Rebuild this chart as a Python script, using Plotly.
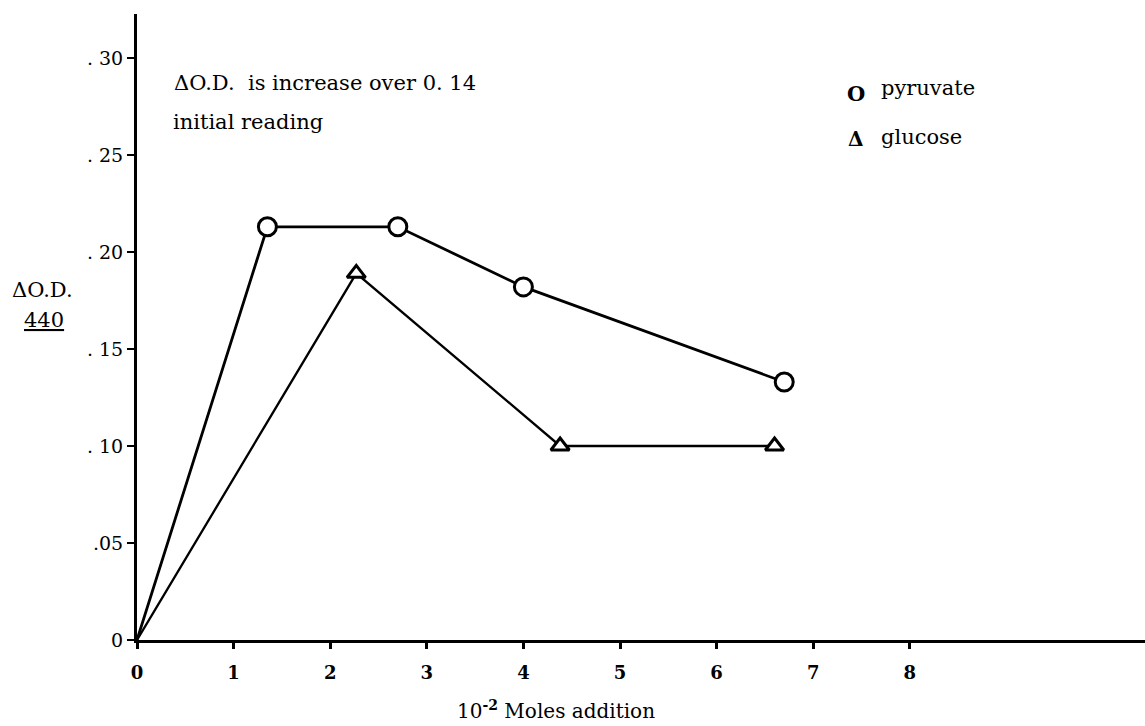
import plotly.graph_objects as go

# Data (x in 10^-2 moles, y in delta O.D. at 440)
pyruvate_x = [0, 1.35, 2.7, 4.0, 6.7]
pyruvate_y = [0, 0.213, 0.213, 0.182, 0.133]
glucose_x = [0, 2.27, 4.38, 6.6]
glucose_y = [0, 0.189, 0.100, 0.100]

x_ticks = [0, 1, 2, 3, 4, 5, 6, 7, 8]
x_ticklabels = ["0", "1", "2", "3", "4", "5", "6", "7", "8"]
y_ticks = [0, 0.05, 0.10, 0.15, 0.20, 0.25, 0.30]
y_ticklabels = ["0", ".05", ". 10", ". 15", ". 20", ". 25", ". 30"]

SERIF = "DejaVu Serif"

fig = go.Figure()

fig.add_trace(go.Scatter(
    x=pyruvate_x, y=pyruvate_y, mode="lines+markers",
    line=dict(color="black", width=2.8),
    marker=dict(symbol="circle", size=18, color="white",
                opacity=[0, 1, 1, 1, 1],
                line=dict(color="black", width=3)),
    showlegend=False, cliponaxis=False,
))
fig.add_trace(go.Scatter(
    x=glucose_x, y=glucose_y, mode="lines+markers",
    line=dict(color="black", width=2.3),
    marker=dict(symbol="triangle-up", size=16, color="white",
                opacity=[0, 1, 1, 1],
                line=dict(color="black", width=3)),
    showlegend=False, cliponaxis=False,
))

W, H = 1145, 726
L, R, T, B = 137, 0, 14, 86
px_per_x = 96.6
px_per_y = 1940.0
xmax = (W - L - R) / px_per_x
ymax = (H - T - B) / px_per_y

def px(xp):
    return (xp - L) / (W - L - R)

def py(yp):
    return (H - B - yp) / (H - T - B)

TXT = dict(family=SERIF, size=21, color="black")

annotations = [
    dict(x=px(172), y=py(83), xref="paper", yref="paper", xanchor="left", yanchor="middle",
         text="ΔO.D.  is increase over 0. 14", showarrow=False, font=TXT),
    dict(x=px(171), y=py(122), xref="paper", yref="paper", xanchor="left", yanchor="middle",
         text="initial reading", showarrow=False, font=TXT),
    # legend
    dict(x=px(856), y=py(93), xref="paper", yref="paper", xanchor="center", yanchor="middle",
         text="<b>O</b>", showarrow=False, font=dict(family=SERIF, size=21, color="black")),
    dict(x=px(879), y=py(88), xref="paper", yref="paper", xanchor="left", yanchor="middle",
         text="pyruvate", showarrow=False, font=TXT),
    dict(x=px(856), y=py(139), xref="paper", yref="paper", xanchor="center", yanchor="middle",
         text="<b>Δ</b>", showarrow=False, font=dict(family=SERIF, size=20, color="black")),
    dict(x=px(879), y=py(137), xref="paper", yref="paper", xanchor="left", yanchor="middle",
         text="glucose", showarrow=False, font=TXT),
    # y title
    dict(x=px(10), y=py(290), xref="paper", yref="paper", xanchor="left", yanchor="middle",
         text="ΔO.D.", showarrow=False, font=TXT),
    dict(x=px(22), y=py(320), xref="paper", yref="paper", xanchor="left", yanchor="middle",
         text="<u>440</u>", showarrow=False, font=TXT),
    # x title
    dict(x=px(455), y=py(710), xref="paper", yref="paper", xanchor="left", yanchor="middle",
         text="10<sup><b>-2</b></sup> Moles addition", showarrow=False,
         font=dict(family=SERIF, size=20, color="black")),
]

fig.update_layout(
    width=W, height=H,
    margin=dict(l=L, r=R, t=T, b=B, pad=0),
    paper_bgcolor="white", plot_bgcolor="white",
    showlegend=False,
    annotations=annotations,
    xaxis=dict(range=[0, xmax], tickvals=x_ticks, ticktext=x_ticklabels,
               showgrid=False, zeroline=False, showline=True, linecolor="black", linewidth=3,
               ticks="outside", ticklen=6, tickwidth=2.5, tickcolor="black",
               ticklabelstandoff=8,
               tickfont=dict(family=SERIF, size=18, color="black", weight="bold")),
    yaxis=dict(range=[0, ymax], tickvals=y_ticks, ticktext=y_ticklabels,
               showgrid=False, zeroline=False, showline=True, linecolor="black", linewidth=3,
               ticks="outside", ticklen=7, tickwidth=2, tickcolor="black",
               tickfont=dict(family=SERIF, size=19, color="black")),
)

fig.write_html("out.html")
